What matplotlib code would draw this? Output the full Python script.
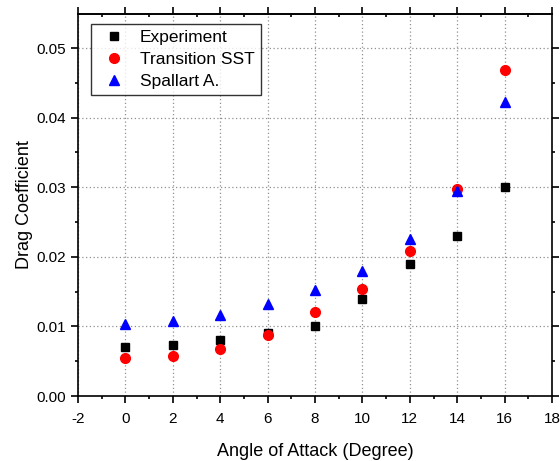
import matplotlib
matplotlib.use("Agg")
import matplotlib.pyplot as plt
from matplotlib.ticker import MultipleLocator

plt.rcParams['font.family'] = ['Liberation Sans', 'DejaVu Sans']

angles = [0, 2, 4, 6, 8, 10, 12, 14, 16]
experiment = [0.0070, 0.0073, 0.0080, 0.0090, 0.0100, 0.0140, 0.0190, 0.0230, 0.0300]
transition_sst = [0.0055, 0.0057, 0.0067, 0.0087, 0.0121, 0.0154, 0.0209, 0.0297, 0.0469]
spallart = [0.0103, 0.0108, 0.0117, 0.0132, 0.0152, 0.0180, 0.0226, 0.0295, 0.0422]

fig = plt.figure(figsize=(5.6, 4.61), dpi=100)
ax = fig.add_axes([78/560, 65/461, (552-78)/560, (396-14)/461])

ax.plot(angles, experiment, linestyle='none', marker='s', ms=6.3, color='black', label='Experiment')
ax.plot(angles, transition_sst, linestyle='none', marker='o', ms=7, color='#ff0000', mec='#ff0000', label='Transition SST')
ax.plot(angles, spallart, linestyle='none', marker='^', ms=7.5, color='#0000ff', label='Spallart A.')

ax.set_xlim(-2, 18)
ax.set_ylim(0, 0.0549)
ax.xaxis.set_major_locator(MultipleLocator(2))
ax.xaxis.set_minor_locator(MultipleLocator(1))
ax.yaxis.set_major_locator(MultipleLocator(0.01))
ax.yaxis.set_minor_locator(MultipleLocator(0.005))
ax.yaxis.set_major_formatter(matplotlib.ticker.FormatStrFormatter('%.2f'))
ax.xaxis.set_major_formatter(matplotlib.ticker.FuncFormatter(lambda v, p: '%d' % v))

ax.grid(True, which='major', linestyle=(0, (1, 2)), color='#909090', linewidth=0.9)
ax.set_axisbelow(True)

for s in ax.spines.values():
    s.set_linewidth(1.2)
ax.tick_params(which='both', direction='out', top=False, right=True, width=1.2, labelsize=11)
ax.tick_params(which='major', length=5)
ax.tick_params(which='minor', length=2.2)
ax.tick_params(axis='x', which='major', pad=6.5)
ax.tick_params(axis='y', which='major', pad=3.3)

# top axis: major ticks outward, minor ticks inward
top = ax.secondary_xaxis('top')
top.xaxis.set_major_locator(MultipleLocator(2))
top.xaxis.set_minor_locator(MultipleLocator(1))
top.tick_params(which='major', direction='out', length=5, width=1.2, labeltop=False)
top.tick_params(which='minor', direction='in', length=2.2, width=1.2)
top.spines['top'].set_linewidth(1.2)

ax.set_xlabel('Angle of Attack (Degree)', fontsize=13, labelpad=12)
ax.set_ylabel('Drag Coefficient', fontsize=13, labelpad=3)

leg = ax.legend(loc='upper left', bbox_to_anchor=((91-78)/474, 1 - (24-14)/382), fontsize=12.5,
                frameon=True, fancybox=False, edgecolor='black', borderpad=0.35,
                handletextpad=0.53, labelspacing=0.38, borderaxespad=0, handlelength=1.94)
leg.get_frame().set_linewidth(1.0)

fig.savefig('out.png', dpi=100)
